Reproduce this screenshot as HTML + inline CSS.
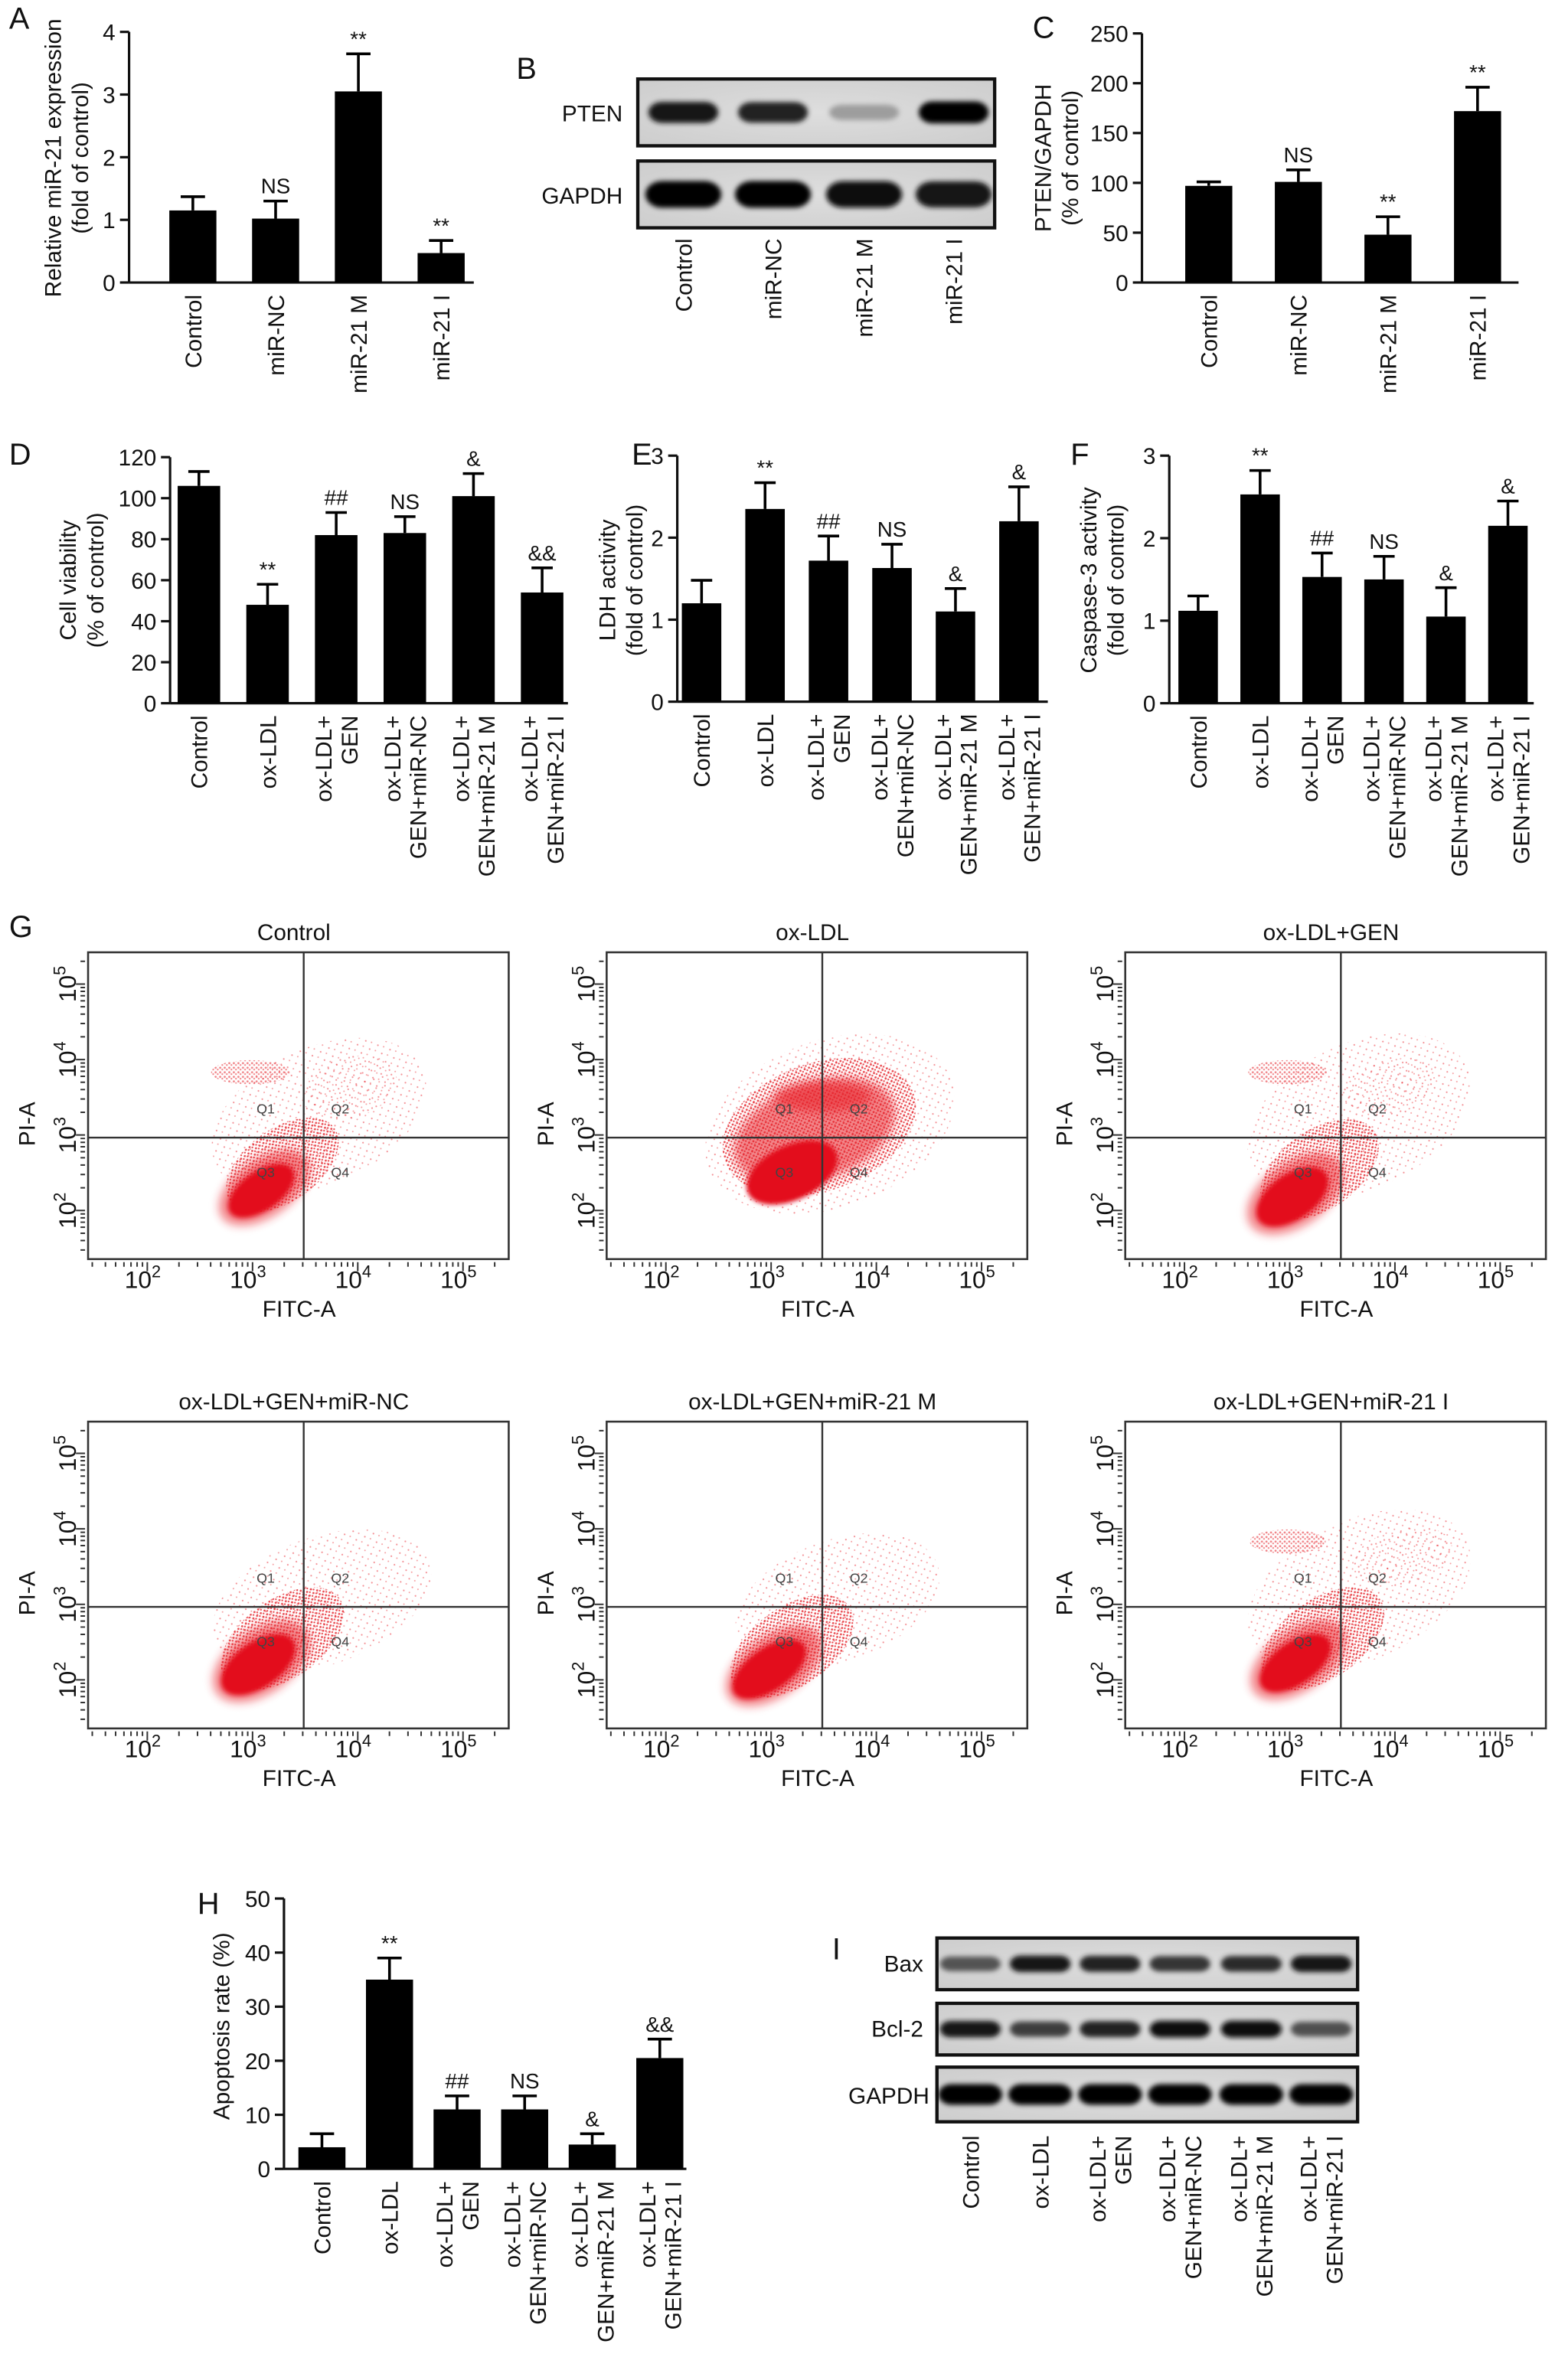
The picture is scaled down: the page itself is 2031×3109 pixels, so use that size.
<!DOCTYPE html>
<html><head><meta charset="utf-8">
<style>
html,body{margin:0;padding:0;background:#fff;}
svg{display:block;font-family:"Liberation Sans",Arial,sans-serif;}
</style></head>
<body>
<svg id="fig" xmlns="http://www.w3.org/2000/svg" width="2031" height="3109" viewBox="0 0 1024 1567" preserveAspectRatio="none">
<defs>
<filter id="blur1" x="-50%" y="-50%" width="200%" height="200%"><feGaussianBlur stdDeviation="1.5"/></filter>
<filter id="blur2" x="-50%" y="-50%" width="200%" height="200%"><feGaussianBlur stdDeviation="3"/></filter>
<filter id="bandblur" x="-30%" y="-100%" width="160%" height="300%"><feGaussianBlur stdDeviation="1.6"/></filter>
<pattern id="dots" width="6" height="6" patternUnits="userSpaceOnUse">
<circle cx="1" cy="1" r="0.55" fill="#e8202a"/><circle cx="4" cy="3.5" r="0.5" fill="#ec3a40"/>
</pattern>
<pattern id="dots2" width="3" height="3" patternUnits="userSpaceOnUse">
<circle cx="1" cy="1" r="0.7" fill="#e41a22"/><circle cx="2.4" cy="2.2" r="0.6" fill="#e41a22"/>
</pattern>
<radialGradient id="blotbg" cx="50%" cy="50%" r="70%"><stop offset="0" stop-color="#dedede"/><stop offset="1" stop-color="#cdcdcd"/></radialGradient>
</defs>
</svg>
<script>
// ===== Bar chart data =====
const catsA = [["Control"],["miR-NC"],["miR-21 M"],["miR-21 I"]];
const valsA = [1.15, 1.02, 3.05, 0.47];
const errsA = [1.37, 1.30, 3.65, 0.67];
const ticksA = [0,1,2,3,4];
const notesA = ["","NS","**","**"];

const catsC = [["Control"],["miR-NC"],["miR-21 M"],["miR-21 I"]];
const valsC = [97, 101, 48, 172];
const errsC = [101, 113, 66, 196];
const ticksC = [0,50,100,150,200,250];
const notesC = ["","NS","**","**"];

const cats6 = [["Control"],["ox-LDL"],["ox-LDL+","GEN"],["ox-LDL+","GEN+miR-NC"],["ox-LDL+","GEN+miR-21 M"],["ox-LDL+","GEN+miR-21 I"]];
const valsD = [106, 48, 82, 83, 101, 54];
const errsD = [113, 58, 93, 91, 112, 66];
const ticksD = [0,20,40,60,80,100,120];
const notesD = ["","**","##","NS","&","&&"];

const valsE = [1.2, 2.35, 1.72, 1.63, 1.1, 2.2];
const errsE = [1.48, 2.67, 2.02, 1.92, 1.38, 2.62];
const ticksE = [0,1,2,3];
const notesE = ["","**","##","NS","&","&"];

const valsF = [1.12, 2.53, 1.53, 1.5, 1.05, 2.15];
const errsF = [1.3, 2.82, 1.82, 1.78, 1.4, 2.45];
const ticksF = [0,1,2,3];
const notesF = ["","**","##","NS","&","&"];

const valsH = [4, 35, 11, 11, 4.5, 20.5];
const errsH = [6.5, 39, 13.5, 13.5, 6.5, 24];
const ticksH = [0,10,20,30,40,50];
const notesH = ["","**","##","NS","&","&&"];

// ===== Blot band intensities =====
const lanesB = ["Control","miR-NC","miR-21 M","miR-21 I"];
const bandPTEN = [0.9, 0.85, 0.22, 1.0];
const bandGAPDHB = [1.0, 1.0, 0.97, 0.93];
const bandBax = [0.6, 0.9, 0.85, 0.75, 0.8, 0.9];
const bandBcl2 = [0.9, 0.72, 0.85, 0.95, 0.95, 0.62];
const bandGAPDHI = [1, 1, 1, 1, 1, 1];

// ===== Flow plots =====
const flowTitles = ["Control","ox-LDL","ox-LDL+GEN","ox-LDL+GEN+miR-NC","ox-LDL+GEN+miR-21 M","ox-LDL+GEN+miR-21 I"];
const flowTickExp = [2,3,4,5];

const NS = "http://www.w3.org/2000/svg";
const svg = document.getElementById("fig");
function mk(tag, attrs, parent){
  const e = document.createElementNS(NS, tag);
  for (const k in attrs) e.setAttribute(k, attrs[k]);
  (parent||svg).appendChild(e);
  return e;
}
function txt(s, attrs, parent){
  const t = mk("text", attrs, parent);
  t.textContent = s;
  return t;
}
function label(s, x, y, size, anchor, name){
  const t = txt(s, {x:x, y:y, "font-size":size, "text-anchor":anchor||"start", fill:"#111"});
  
  
  return t;
}

[["A",6,19],["B",340,52],["C",680,25],["D",6,306],["E",416,306],["F",705,306],["G",6,617],["H",130,1260],["I",548,1290]].forEach(function(p){
  label(p[0], p[1], p[2], 20, "start", "panel-label");
});

function barChart(g, cats, vals, errs, ticks, notes, name){
  const grp = mk("g", {});
  
  
  const max = ticks[ticks.length-1];
  const yS = v => g.bottom - (v/max)*(g.bottom - g.top);
  const ax = mk("line", {x1:g.ax, y1:g.top, x2:g.ax, y2:g.bottom, stroke:"#111", "stroke-width":1.6}, grp);
  
  
  const bx = mk("line", {x1:g.ax, y1:g.bottom, x2:g.xend, y2:g.bottom, stroke:"#111", "stroke-width":1.6}, grp);
  
  
  ticks.forEach(function(t){
    const y = yS(t);
    const tk = mk("line", {x1:g.ax-6, y1:y, x2:g.ax, y2:y, stroke:"#111", "stroke-width":1.6}, grp);
    
    
    const tl = txt(String(t), {x:g.ax-9, y:y+5.5, "font-size":15, "text-anchor":"end", fill:"#111"}, grp);
    
    
  });
  g.ylab.forEach(function(s, j){
    const x = g.ylabX + j*18;
    const t = txt(s, {x:x, y:g.ylabY, "font-size":15, "text-anchor":"middle", fill:"#111", transform:"rotate(-90 "+x+" "+g.ylabY+")"}, grp);
    
    
  });
  vals.forEach(function(v, i){
    const cx = g.x0 + i*g.step;
    const bar = mk("rect", {x:cx-g.bw/2, y:yS(v), width:g.bw, height:g.bottom-yS(v), fill:"#000"}, grp);
    
    
    const ye = yS(errs[i]);
    const eb = mk("path", {d:"M"+cx+" "+yS(v)+"V"+ye+"M"+(cx-g.cap)+" "+ye+"H"+(cx+g.cap), stroke:"#000", "stroke-width":1.8, fill:"none"}, grp);
    
    
    if (notes[i]){
      const nt = txt(notes[i], {x:cx, y:ye-5, "font-size":14, "text-anchor":"middle", fill:"#111"}, grp);
      
      
    }
    const n = cats[i].length;
    cats[i].forEach(function(s, j){
      const x = cx + (j-(n-1)/2)*17 + 5.5;
      const y = g.bottom + 8;
      const cl = txt(s, {x:x, y:y, "font-size":15, "text-anchor":"end", fill:"#111", transform:"rotate(-90 "+x+" "+y+")"}, grp);
      
      
    });
  });
}

barChart({ax:85, top:21, bottom:186, xend:312, x0:127, step:54.5, bw:31, cap:8, ylab:["Relative miR-21 expression","(fold of control)"], ylabX:40, ylabY:104}, catsA, valsA, errsA, ticksA, notesA, "chart-a-mir21");
barChart({ax:752, top:22, bottom:186, xend:1000, x0:796, step:59, bw:31, cap:8, ylab:["PTEN/GAPDH","(% of control)"], ylabX:692, ylabY:104}, catsC, valsC, errsC, ticksC, notesC, "chart-c-pten");
barChart({ax:112, top:301, bottom:463, xend:374, x0:131, step:45.2, bw:28, cap:7, ylab:["Cell viability","(% of control)"], ylabX:50, ylabY:382}, cats6, valsD, errsD, ticksD, notesD, "chart-d-viability");
barChart({ax:446, top:300, bottom:462, xend:690, x0:462, step:41.8, bw:26, cap:7, ylab:["LDH activity","(fold of control)"], ylabX:405, ylabY:382}, cats6, valsE, errsE, ticksE, notesE, "chart-e-ldh");
barChart({ax:770, top:300, bottom:463, xend:1010, x0:789, step:40.8, bw:26, cap:7, ylab:["Caspase-3 activity","(fold of control)"], ylabX:722, ylabY:382}, cats6, valsF, errsF, ticksF, notesF, "chart-f-caspase");
barChart({ax:187, top:1250, bottom:1428, xend:452, x0:212, step:44.5, bw:31, cap:8, ylab:["Apoptosis rate (%)"], ylabX:151, ylabY:1334}, cats6, valsH, errsH, ticksH, notesH, "chart-h-apoptosis");

function blot(x0, x1, y0, y1, lanes, vals, bh, bw, name){
  const grp = mk("g", {});
  
  
  const r = mk("rect", {x:x0, y:y0, width:x1-x0, height:y1-y0, fill:"url(#blotbg)", stroke:"#111", "stroke-width":2.2}, grp);
  
  
  const cy = (y0+y1)/2;
  vals.forEach(function(v, i){
    const g = Math.round(200 - v*195);
    const b = mk("rect", {x:lanes[i]-bw/2, y:cy-bh*(0.5+0.3*v)/2, width:bw, height:bh*(0.5+0.3*v), rx:bh/2, fill:"rgb("+g+","+g+","+g+")", filter:"url(#bandblur)"}, grp);
    
    
  });
}
const laneXB = [450, 509, 569, 628];
blot(420, 655, 52, 96, laneXB, bandPTEN, 18, 46, "blot-pten");
blot(420, 655, 106, 150, laneXB, bandGAPDHB, 22, 50, "blot-gapdh-b");
label("PTEN", 410, 80, 15, "end", "blot-label-pten");
label("GAPDH", 410, 134, 15, "end", "blot-label-gapdh");
lanesB.forEach(function(s, i){
  const x = laneXB[i]+5.5, y = 157;
  const t = txt(s, {x:x, y:y, "font-size":15, "text-anchor":"end", fill:"#111", transform:"rotate(-90 "+x+" "+y+")"});
  
  
});

const laneXI = [639, 685, 731, 777, 824, 870];
blot(617, 894, 1276, 1310, laneXI, bandBax, 14, 40, "blot-bax");
blot(617, 894, 1319, 1353, laneXI, bandBcl2, 14, 40, "blot-bcl2");
blot(617, 894, 1361, 1397, laneXI, bandGAPDHI, 17, 42, "blot-gapdh-i");
label("Bax", 608, 1298, 15, "end", "blot-label-bax");
label("Bcl-2", 608, 1341, 15, "end", "blot-label-bcl2");
label("GAPDH", 612, 1385, 15, "end", "blot-label-gapdh-i");
cats6.forEach(function(c, i){
  const n = c.length;
  c.forEach(function(s, j){
    const x = laneXI[i] + (j-(n-1)/2)*17 + 5.5, y = 1406;
    const t = txt(s, {x:x, y:y, "font-size":15, "text-anchor":"end", fill:"#111", transform:"rotate(-90 "+x+" "+y+")"});
    
    
  });
});

// cloud shapes: [cx, cy, rx, ry, rot, kind]
const cloudsCtrl = [[210,735,75,45,-25,"sparse"],[165,706,26,8,0,"up"],[230,716,32,20,-15,"sparse"],[186,767,42,24,-35,"sparse2"],[174,782,34,19,-35,"mid"],[172,784,25,13,-35,"core"]];
const cloudsOx = [[205,740,85,55,-20,"sparse"],[198,742,66,42,-20,"sparse2"],[195,745,55,32,-20,"mid"],[180,772,32,18,-25,"core"],[200,722,32,10,0,"mid"]];
const cloudsGen = [[212,735,78,48,-25,"sparse"],[165,706,26,8,0,"up"],[232,716,32,18,-15,"sparse"],[186,770,44,26,-35,"sparse2"],[170,786,36,21,-35,"mid"],[168,788,27,15,-35,"core"]];
const cloudsNC = [[212,745,75,42,-20,"sparse"],[186,770,46,26,-35,"sparse2"],[172,785,36,21,-35,"mid"],[170,787,28,15,-35,"core"]];
const cloudsM = [[210,745,70,40,-20,"sparse"],[180,775,46,26,-35,"sparse2"],[168,788,36,20,-35,"mid"],[165,790,28,14,-35,"core"]];
const cloudsI = [[212,738,78,46,-25,"sparse"],[165,706,25,8,0,"up"],[240,716,34,18,-15,"sparse"],[188,770,46,26,-35,"sparse2"],[172,784,36,20,-35,"mid"],[170,786,27,14,-35,"core"]];
const flowClouds = [cloudsCtrl, cloudsOx, cloudsGen, cloudsNC, cloudsM, cloudsI];

function flowPlot(idx){
  const dx = (idx%3)*341.5, dy = Math.floor(idx/3)*309;
  const grp = mk("g", {transform:"translate("+dx+" "+dy+")"});
  
  
  const L=58, R=335, T=627, B=829;
  const xS = e => 97 + (e-2)*69.3;
  const yS = e => 797 - (e-2)*49.7;
  const tt = txt(flowTitles[idx], {x:(L+R)/2-3, y:619, "font-size":15, "text-anchor":"middle", fill:"#111"}, grp);
  
  
  const clip = mk("clipPath", {id:"fc"+idx}, grp);
  mk("rect", {x:L, y:T, width:R-L, height:B-T}, clip);
  const cg = mk("g", {"clip-path":"url(#fc"+idx+")"}, grp);
  flowClouds[idx].forEach(function(c){
    const a = {cx:c[0], cy:c[1], rx:c[2], ry:c[3], transform:"rotate("+c[4]+" "+c[0]+" "+c[1]+")"};
    if (c[5]==="sparse"){ a.fill="url(#dots)"; a.opacity=0.5; }
    else if (c[5]==="sparse2"){ a.fill="url(#dots2)"; a.opacity=0.8; }
    else if (c[5]==="up"){ a.fill="url(#dots2)"; a.opacity=0.55; }
    else if (c[5]==="mid"){ a.fill="#e8222b"; a.opacity=0.55; a.filter="url(#blur2)"; }
    else { a.fill="#e3101a"; a.opacity=1; a.filter="url(#blur1)"; }
    const e = mk("ellipse", a, cg);
    
    
  });
  const fr = mk("rect", {x:L, y:T, width:R-L, height:B-T, fill:"none", stroke:"#333", "stroke-width":1.3}, grp);
  
  
  const gx = 200, gy = 749;
  const gl = mk("path", {d:"M"+gx+" "+T+"V"+B+"M"+L+" "+gy+"H"+R, stroke:"#333", "stroke-width":1.2}, grp);
  
  
  [["Q1",175,733],["Q2",224,733],["Q3",175,775],["Q4",224,775]].forEach(function(q){
    const t = txt(q[0], {x:q[1], y:q[2], "font-size":9, "text-anchor":"middle", fill:"#444"}, grp);
    
    
  });
  let d = "";
  for (let e=1; e<=5; e++){
    for (let m=1; m<10; m++){
      const v = e + Math.log10(m);
      const xx = xS(v), yy = yS(v);
      const len = m===1?6:3;
      if (xx>L+2 && xx<R) d += "M"+xx+" "+(B+2)+"v"+len;
      if (yy>T+2 && yy<B) d += "M"+(L-2)+" "+yy+"h"+(-len);
    }
  }
  const tk = mk("path", {d:d, stroke:"#333", "stroke-width":1}, grp);
  
  
  flowTickExp.forEach(function(e){
    const xl = txt("", {x:xS(e)-3, y:B+19, "font-size":16, "text-anchor":"middle", fill:"#111"}, grp);
    
    
    const t1 = mk("tspan", {}, xl); t1.textContent = "10";
    const t2 = mk("tspan", {dy:-7, "font-size":11}, xl); t2.textContent = String(e);
    const y = yS(e), x = 47;
    const yl = txt("", {x:x, y:y+3, "font-size":16, "text-anchor":"middle", fill:"#111", transform:"rotate(-90 "+x+" "+y+")"}, grp);
    
    
    const s1 = mk("tspan", {}, yl); s1.textContent = "10";
    const s2 = mk("tspan", {dy:-7, "font-size":11}, yl); s2.textContent = String(e);
  });
  const fx = txt("FITC-A", {x:197, y:867, "font-size":15, "text-anchor":"middle", fill:"#111"}, grp);
  
  
  const py = txt("PI-A", {x:23, y:740, "font-size":15, "text-anchor":"middle", fill:"#111", transform:"rotate(-90 23 740)"}, grp);
  
  
}
for (let i=0; i<6; i++) flowPlot(i);
</script>
</body></html>
